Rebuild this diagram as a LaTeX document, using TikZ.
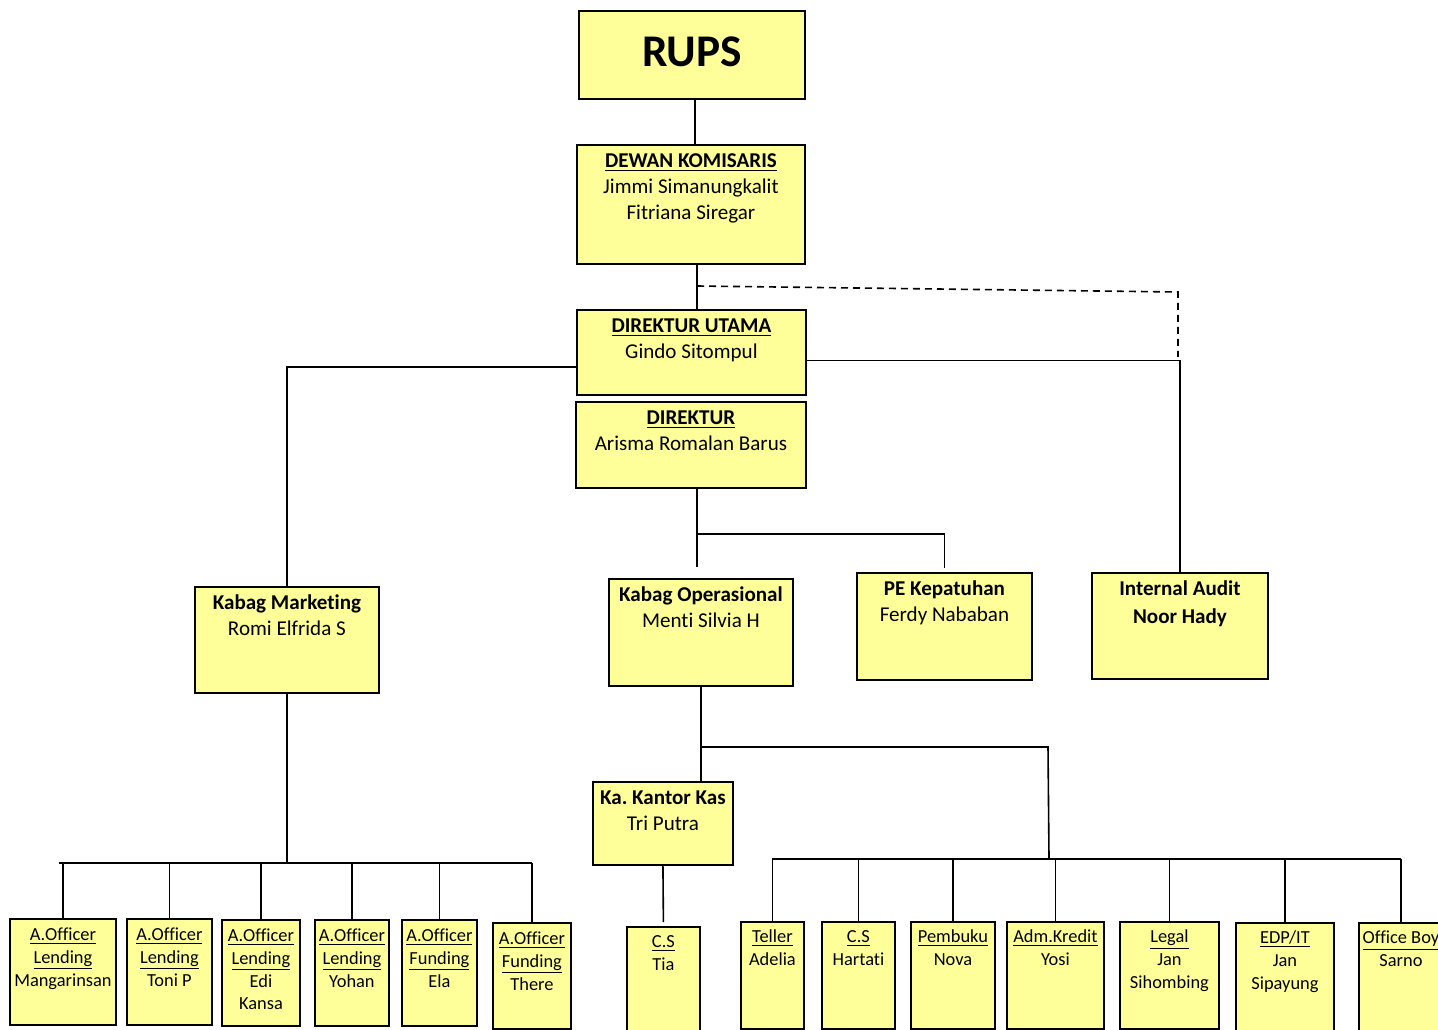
\documentclass[tikz,border=0pt]{standalone}
\usepackage{fontspec}
\setmainfont{Carlito}[Ligatures=CommonOff]
\frenchspacing
\newlength{\pixel}\setlength{\pixel}{0.75pt}
\newcommand{\orgtext}[4]{\parbox[c][#2\pixel][t]{#1\pixel}{\centering\rule{0pt}{#3\pixel}#4}}
\definecolor{orgyellow}{HTML}{FFFF99}
\begin{document}
\begin{tikzpicture}[x=0.75pt,y=-0.75pt,
    unit/.style={draw, fill=orgyellow, line width=1.4pt, inner sep=0pt, anchor=north west},
    big/.style={font=\fontsize{15.8}{19.5}\selectfont},
    small/.style={font=\fontsize{13.8}{17}\selectfont},
    link/.style={line width=1.2pt}]
  \useasboundingbox (0,0) rectangle (1438,1030);
  \clip (0,0) rectangle (1438,1030);
  \node[unit, font=\fontsize{34}{40}\selectfont\bfseries] (rups) at (578,10) {\orgtext{226}{88}{56}{RUPS}};
  \node[unit, big] (dewan) at (576,144) {\orgtext{228}{119}{23}{\underline{\textbf{DEWAN KOMISARIS}}\\Jimmi Simanungkalit\\Fitriana Siregar}};
  \node[unit, big] (dirut) at (576,309) {\orgtext{229}{85}{23}{\underline{\textbf{DIREKTUR UTAMA}}\\Gindo Sitompul}};
  \node[unit, big] (dir) at (575,401) {\orgtext{230}{86}{23}{\underline{\textbf{DIREKTUR}}\\Arisma Romalan Barus}};
  \node[unit, big] (mkt) at (194,586) {\orgtext{184}{106}{23}{\textbf{Kabag Marketing}\\Romi Elfrida S}};
  \node[unit, big] (ops) at (608,578) {\orgtext{184}{107}{23}{\textbf{Kabag Operasional}\\Menti Silvia H}};
  \node[unit, big] (pe) at (856,572) {\orgtext{175}{107}{23}{\textbf{PE Kepatuhan}\\Ferdy Nababan}};
  \node[unit, big] (audit) at (1091,572) {\orgtext{176}{106}{23}{\textbf{Internal Audit}\\[1.5pt]\textbf{Noor Hady}}};
  \node[unit, big] (kas) at (592,781) {\orgtext{140}{83}{23}{\textbf{Ka. Kantor Kas}\\Tri Putra}};
  \node[unit, small] (ao1) at (9,918) {\orgtext{106}{106}{22}{\underline{A.Officer}\\\underline{Lending}\\Mangarinsan}};
  \node[unit, small] (ao2) at (126,918) {\orgtext{85}{106}{22}{\underline{A.Officer}\\\underline{Lending}\\Toni P}};
  \node[unit, small] (ao3) at (221,919) {\orgtext{78}{106}{22}{\underline{A.Officer}\\\underline{Lending}\\Edi\\Kansa}};
  \node[unit, small] (ao4) at (314,919) {\orgtext{74}{106}{22}{\underline{A.Officer}\\\underline{Lending}\\Yohan}};
  \node[unit, small] (ao5) at (401,919) {\orgtext{75}{106}{22}{\underline{A.Officer}\\\underline{Funding}\\Ela}};
  \node[unit, small] (ao6) at (492,922) {\orgtext{78}{106}{22}{\underline{A.Officer}\\\underline{Funding}\\There}};
  \node[unit, small] (cs1) at (626,926) {\orgtext{73}{110}{21}{\underline{C.S}\\Tia}};
  \node[unit, small] (teller) at (740,921) {\orgtext{63}{107}{21}{\underline{Teller}\\Adelia}};
  \node[unit, small] (cs2) at (821,921) {\orgtext{73}{107}{21}{\underline{C.S}\\Hartati}};
  \node[unit, small] (pemb) at (910,921) {\orgtext{84}{107}{21}{\underline{Pembuku}\\Nova}};
  \node[unit, small] (adm) at (1006,921) {\orgtext{97}{107}{21}{\underline{Adm.Kredit}\\Yosi}};
  \node[unit, small] (legal) at (1119,921) {\orgtext{99}{107}{21}{\underline{Legal}\\Jan\\Sihombing}};
  \node[unit, small] (edp) at (1235,922) {\orgtext{98}{108}{21}{\underline{EDP/IT}\\Jan\\Sipayung}};
  \node[unit, small] (boy) at (1358,922) {\orgtext{84}{108}{21}{\underline{Office Boy}\\Sarno}};
  \coordinate (topline) at (695,0);
  \coordinate (spine) at (697,0);
  \coordinate (dashA) at (697,286);
  \coordinate (dashB) at (1178,292);
  \coordinate (dashC) at (1178,357);
  \coordinate (opsfork) at (697,534);
  \coordinate (kasbus) at (1048,747);
  \coordinate (kasdrop) at (1049,858);
  \coordinate (busL) at (0,863);
  \coordinate (busR) at (0,859);
  \begin{scope}[link]
    \draw (rups.south -| topline) -- (dewan.north -| topline);
    \draw (dewan.south -| spine) -- (dirut.north -| spine);
    \draw[dash pattern=on 5.25pt off 3.75pt] (dashA) -- (dashB) -- (dashC);
    \draw ([yshift=-6pt]dirut.east) -| (audit.north);
    \draw ([yshift=-11pt]dirut.west) -| (mkt.north);
    \draw[shorten >=8pt] (dir.south -| spine) -- (ops.north -| spine);
    \draw[shorten >=3pt] (opsfork) -| (pe.north);
    \draw (ops.south) -- (ops.south |- kas.north);
    \draw (ops.south |- kasbus) -- (kasbus) -- (kasdrop);
    \draw (mkt.south) -- (mkt.south |- busL);
    \draw ([xshift=-3pt]ao1.north |- busL) -- (ao6.north |- busL);
    \foreach \n in {ao1,ao2,ao3,ao4,ao5,ao6}
      \draw (\n.north |- busL) -- (\n.north);
    \draw[shorten >=3pt] (kas.south) -- (cs1.north);
    \draw (teller.north |- busR) -- (boy.north |- busR);
    \foreach \n in {teller,cs2,pemb,adm,legal,edp,boy}
      \draw (\n.north |- busR) -- (\n.north);
  \end{scope}
\end{tikzpicture}
\end{document}
